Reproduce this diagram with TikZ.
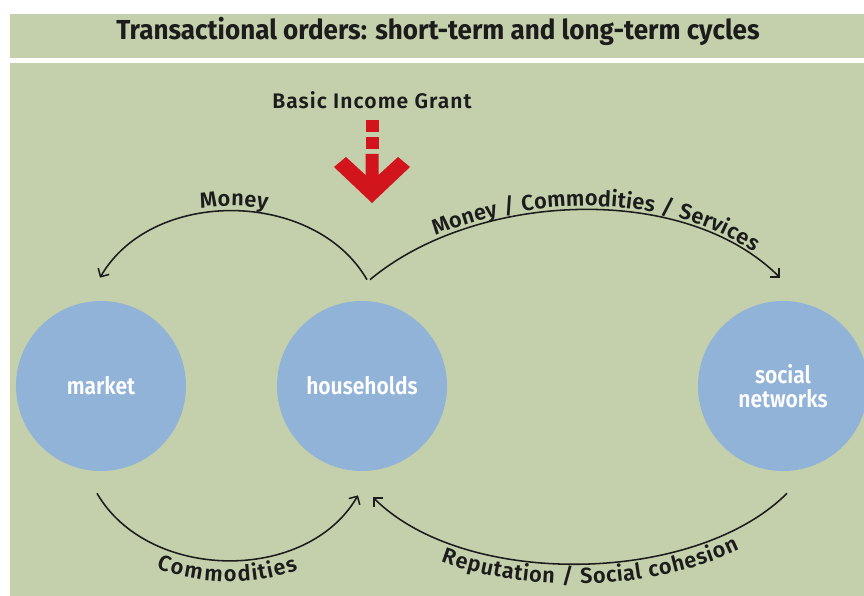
\documentclass[tikz,border=0pt]{standalone}
\usepackage{fontspec}
\setmainfont{Fira Sans}
\newfontfamily\labelfont{Fira Sans SemiBold}[LetterSpace=5]
\newfontfamily\sectorfont{Fira Sans SemiBold}[FakeStretch=0.88]
\newfontfamily\titlefont{Fira Sans}[FakeStretch=0.95]
\usetikzlibrary{arrows.meta,calc,decorations.text}

\definecolor{sage}{HTML}{C4D0AB}
\definecolor{bubble}{HTML}{92B3D8}
\definecolor{grantred}{HTML}{D2151D}
\definecolor{ink}{HTML}{1C1C1C}

\tikzset{
  sector/.style={circle, fill=bubble, minimum size=4.25cm, inner sep=0pt,
    text=white, align=center, font=\sectorfont\fontsize{17}{16.5}\selectfont},
  flow/.style={draw=ink, line width=1.1pt, -{Straight Barb[length=4.5pt,width=9pt]}},
  flowtext/.style={decorate, decoration={text along path, text align=center,
    text color=ink, raise=#1}},
}
\newcommand\flowfont{\labelfont\fontsize{15.5}{18}\selectfont}

\begin{document}
\begin{tikzpicture}[x=0.025cm, y=-0.025cm]
\useasboundingbox (0,0) rectangle (864,596);

% background and title band
\fill[sage] (10,14) rectangle (864,596);
\fill[white] (10,58.5) rectangle (864,63.5);
\node[anchor=base, text=ink, font=\titlefont\bfseries\fontsize{19.5}{22}\selectfont] (title) at (438,39.5)
  {Transactional orders: short-term and long-term cycles};

% the three sectors
\node[sector] (mk) at (101,386) {market};
\node[sector] (hh) at (362,386) {households};
\node[sector] (sn) at (783,386) {social\\networks};

% grant arrow
\node[anchor=base, text=ink, font=\labelfont\fontsize{15}{17}\selectfont] (grant) at (372,109) {Basic Income Grant};
\fill[grantred] (365.5,120) rectangle (378.5,132);
\fill[grantred] (365.5,137) rectangle (378.5,149);
\fill[grantred] (334,167) -- (372,203) -- (410,167) -- (398,157) -- (378.5,175)
  -- (378.5,154) -- (365.5,154) -- (365.5,175) -- (346,157) -- cycle;

% short-term cycle
\draw[flow] ($(hh.north)+(5,-21)$) to[out=120,in=60] ($(mk.north)+(-1,-23)$);
\path[flowtext=3.5pt, decoration={text={|\flowfont|Money}}]
  ($(mk.north)+(-1,-23)$) to[out=60,in=120] ($(hh.north)+(5,-21)$);
\draw[flow] ($(mk.south)+(-4,22)$) to[out=-60,in=-120] ($(hh.south)+(-4,24)$);
\path[flowtext=-15pt, decoration={text={|\flowfont|Commodities}}]
  ($(mk.south)+(-4,22)$) to[out=-60,in=-120] ($(hh.south)+(-4,24)$);

% long-term cycle
\draw[flow] ($(hh.north)+(8,-21)$) to[out=40,in=135,looseness=0.85] ($(sn.north)+(-3,-23)$);
\path[flowtext=2.5pt, decoration={text align={align=center, left indent=30pt},
    text={|\flowfont|Money / Commodities / Services}}]
  ($(hh.north)+(8,-21)$) to[out=40,in=135,looseness=0.85] ($(sn.north)+(-3,-23)$);
\draw[flow] ($(sn.south)+(4,22)$) to[out=-135,in=-45,looseness=0.8] ($(hh.south)+(11,26)$);
\path[flowtext=-14pt, decoration={text align={align=center, left indent=14pt},
    text={|\flowfont|Reputation / Social cohesion}}]
  ($(hh.south)+(11,26)$) to[out=-45,in=-135,looseness=0.8] ($(sn.south)+(4,22)$);

\end{tikzpicture}
\end{document}
